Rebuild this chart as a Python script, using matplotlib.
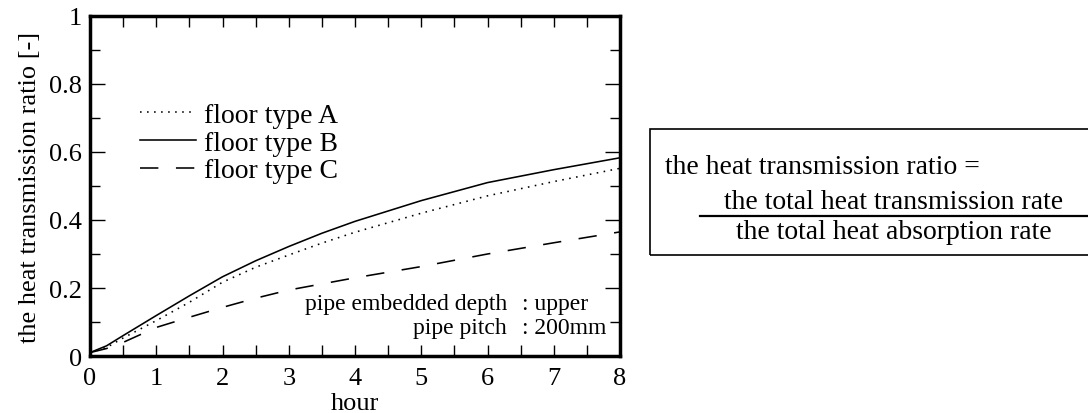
import numpy as np
import matplotlib
matplotlib.use("Agg")
import matplotlib.pyplot as plt
from matplotlib.ticker import MultipleLocator
from matplotlib.patches import Rectangle
from matplotlib.lines import Line2D

# data
hours = [0, 0.25, 0.5, 1, 1.5, 2, 2.5, 3, 3.5, 4, 5, 6, 7, 8]
type_a = [0.01, 0.025, 0.053, 0.104, 0.158, 0.217, 0.261, 0.297, 0.332, 0.364, 0.42, 0.471, 0.513, 0.552]
type_b = [0.01, 0.03, 0.06, 0.119, 0.177, 0.233, 0.28, 0.322, 0.361, 0.396, 0.457, 0.51, 0.548, 0.583]
type_c = [0.01, 0.022, 0.04, 0.084, 0.114, 0.143, 0.17, 0.194, 0.212, 0.23, 0.263, 0.30, 0.333, 0.365]
labels = ["floor type A", "floor type B", "floor type C"]

plt.rcParams["font.family"] = ["Liberation Serif", "DejaVu Serif"]

fig = plt.figure(figsize=(10.88, 4.14), dpi=100)
ax = fig.add_axes([90 / 1088, 1 - 357 / 414, 530 / 1088, 340 / 414])

lw = 1.15
ax.plot(hours, type_a, color="black", lw=lw, linestyle=(0, (1, 3.4)), label=labels[0])
ax.plot(hours, type_b, color="black", lw=lw, linestyle="-", label=labels[1])
ax.plot(hours, type_c, color="black", lw=lw, linestyle=(0, (11.5, 11)), label=labels[2])

ax.set_xlim(0, 8)
ax.set_ylim(0, 1)
ax.xaxis.set_major_locator(MultipleLocator(1))
ax.xaxis.set_minor_locator(MultipleLocator(0.5))
ax.yaxis.set_minor_locator(MultipleLocator(0.1))
ax.set_yticks([0, 0.2, 0.4, 0.6, 0.8, 1])
ax.set_yticklabels(["0", "0.2", "0.4", "0.6", "0.8", "1"])

for s in ax.spines.values():
    s.set_linewidth(2.5)

ax.tick_params(axis="both", which="both", direction="in", top=True, right=True,
               width=1.0, labelsize=19)
ax.tick_params(axis="x", which="both", length=8, pad=8)
ax.tick_params(axis="y", which="major", length=11, pad=6)
ax.tick_params(axis="y", which="minor", length=7)

ax.set_xlabel("hour", fontsize=19, labelpad=2)
ax.set_ylabel("the heat transmission ratio [-]", fontsize=19)
ax.yaxis.set_label_coords(-0.093, 0.5)

leg = ax.legend(loc="upper left", bbox_to_anchor=(0.095, 0.745), frameon=False,
                fontsize=20, handlelength=2.0, handletextpad=0.3,
                labelspacing=0.08, borderpad=0, borderaxespad=0)

# conditions note
ax.text(0.787, 0.153, "pipe embedded depth", transform=ax.transAxes,
        ha="right", va="center", fontsize=17)
ax.text(0.815, 0.153, ": upper", transform=ax.transAxes,
        ha="left", va="center", fontsize=17)
ax.text(0.787, 0.085, "pipe pitch", transform=ax.transAxes,
        ha="right", va="center", fontsize=17)
ax.text(0.815, 0.085, ": 200mm", transform=ax.transAxes,
        ha="left", va="center", fontsize=17)

# definition box on the right
box = Rectangle((650 / 1088, 1 - 256 / 414), 440 / 1088, 126 / 414,
                transform=fig.transFigure, fill=False, lw=1.2, clip_on=False)
fig.patches.append(box)
fig.text(665 / 1088, 1 - 168 / 414, "the heat transmission ratio =",
         ha="left", va="center", fontsize=20)
fig.text(894 / 1088, 1 - 203 / 414, "the total heat transmission rate",
         ha="center", va="center", fontsize=20)
fig.add_artist(Line2D([700 / 1088, 1.0], [1 - 217 / 414, 1 - 217 / 414],
                      transform=fig.transFigure, color="black", lw=1.6))
fig.text(894 / 1088, 1 - 233 / 414, "the total heat absorption rate",
         ha="center", va="center", fontsize=20)

fig.savefig("out.png", dpi=100)
